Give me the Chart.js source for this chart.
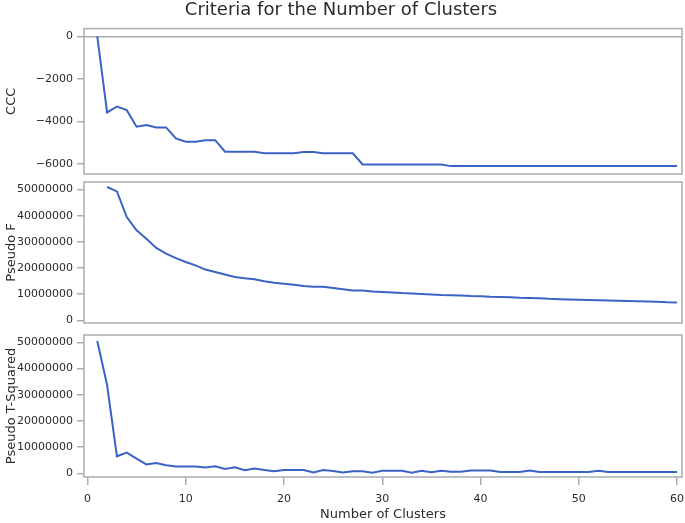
<!DOCTYPE html>
<html lang="en">
<head>
    <meta charset="UTF-8">
    <title>Criteria for the Number of Clusters</title>
    <script src="https://cdn.jsdelivr.net/npm/chart.js"></script>
    <style>
        body { margin: 0; background: #fff; }
        #wrap { position: relative; width: 685px; height: 523px; }
        #wrap canvas { position: absolute; left: 0; top: 0; }
    </style>
</head>
<body>
<div id="wrap">
    <canvas id="cccChart" width="685" height="523"></canvas>
    <canvas id="pseudoFChart" width="685" height="523"></canvas>
    <canvas id="pseudoTChart" width="685" height="523"></canvas>
</div>
<script>
    // Number of clusters (x axis)
    const clusters = [
        1, 2, 3, 4, 5, 6, 7, 8, 9, 10, 11, 12, 13, 14, 15, 16, 17, 18, 19, 20,
        21, 22, 23, 24, 25, 26, 27, 28, 29, 30, 31, 32, 33, 34, 35, 36, 37, 38, 39, 40,
        41, 42, 43, 44, 45, 46, 47, 48, 49, 50, 51, 52, 53, 54, 55, 56, 57, 58, 59, 60
    ];

    // Cubic clustering criterion
    const ccc = [
        0, -3580, -3300, -3470, -4250, -4170, -4280, -4280, -4800, -4950,
        -4950, -4880, -4880, -5420, -5420, -5420, -5420, -5500, -5500, -5500,
        -5500, -5440, -5440, -5500, -5500, -5500, -5500, -6020, -6020, -6020,
        -6020, -6020, -6020, -6020, -6020, -6020, -6100, -6100, -6100, -6100,
        -6100, -6100, -6100, -6100, -6100, -6100, -6100, -6100, -6100, -6100,
        -6100, -6100, -6100, -6100, -6100, -6100, -6100, -6100, -6100, -6100
    ];

    // Pseudo F (not defined for one cluster)
    const pseudoF = [
        null, 51000000, 49300000, 39500000, 34400000, 31200000, 27700000, 25500000, 23800000, 22300000,
        21000000, 19400000, 18500000, 17500000, 16600000, 16100000, 15700000, 14900000, 14400000, 14000000,
        13600000, 13100000, 12800000, 12800000, 12400000, 11900000, 11400000, 11400000, 11000000, 10800000,
        10600000, 10400000, 10300000, 10100000, 9900000, 9700000, 9600000, 9500000, 9300000, 9200000,
        9000000, 8900000, 8800000, 8600000, 8500000, 8400000, 8200000, 8100000, 8000000, 7900000,
        7800000, 7700000, 7600000, 7500000, 7400000, 7300000, 7200000, 7100000, 6900000, 6800000
    ];

    // Pseudo T-Squared
    const pseudoT2 = [
        50500000, 33700000, 6500000, 7900000, 5600000, 3400000, 3900000, 3100000, 2600000, 2600000,
        2600000, 2200000, 2700000, 1700000, 2300000, 1150000, 1800000, 1300000, 800000, 1300000,
        1300000, 1300000, 300000, 1300000, 900000, 300000, 800000, 800000, 250000, 1000000,
        1000000, 1000000, 250000, 1000000, 400000, 1000000, 600000, 600000, 1100000, 1100000,
        1100000, 500000, 500000, 500000, 1100000, 500000, 500000, 500000, 500000, 500000,
        500000, 1000000, 500000, 500000, 500000, 500000, 500000, 500000, 500000, 500000
    ];

    // tick labels
    const xTicks = [0, 10, 20, 30, 40, 50, 60];
    const cccTicks = [0, -2000, -4000, -6000];
    const bigTicks = [0, 10000000, 20000000, 30000000, 40000000, 50000000];

    const LINE = '#3b63c3';
    const FRAME = '#a9adb1';
    const TEXT = '#2b2b2b';
    const FONT = "'DejaVu Sans', sans-serif";

    // draw the gray box round each panel
    const framePlugin = {
        id: 'frame',
        beforeDatasetsDraw(chart) {
            const { ctx, chartArea: a } = chart;
            ctx.save();
            ctx.strokeStyle = FRAME;
            ctx.lineWidth = 1.5;
            ctx.strokeRect(a.left, a.top, a.right - a.left, a.bottom - a.top);
            ctx.restore();
        }
    };

    function points(values) {
        return clusters.map((c, i) => ({ x: c, y: values[i] }));
    }

    function makePanel(id, title, values, yRange, yTicks, padding, showX, chartTitle, zeroLine) {
        return new Chart(document.getElementById(id), {
            type: 'line',
            data: {
                datasets: [{
                    data: points(values),
                    borderColor: LINE,
                    borderWidth: 2,
                    pointRadius: 0,
                    tension: 0
                }]
            },
            options: {
                responsive: false,
                animation: false,
                events: [],
                layout: { padding: padding },
                plugins: {
                    legend: { display: false },
                    tooltip: { enabled: false },
                    title: {
                        display: !!chartTitle,
                        text: chartTitle || '',
                        color: TEXT,
                        font: { family: FONT, size: 18, weight: 'normal' },
                        padding: { top: 0, bottom: 7 }
                    }
                },
                scales: {
                    x: {
                        type: 'linear',
                        display: showX,
                        min: -0.35,
                        max: 60.5,
                        afterBuildTicks: s => { s.ticks = xTicks.map(v => ({ value: v })); },
                        afterFit: s => {
                            s.paddingLeft = 0;
                            s.paddingRight = 0;
                            if (showX) s.height = 46;
                        },
                        border: { display: false },
                        grid: { drawOnChartArea: false, color: FRAME, tickLength: 8, lineWidth: 1.5 },
                        ticks: {
                            color: TEXT,
                            padding: 8,
                            maxRotation: 0,
                            font: { family: FONT, size: 11 }
                        },
                        title: {
                            display: true,
                            text: 'Number of Clusters',
                            color: TEXT,
                            font: { family: FONT, size: 13 },
                            padding: { top: 0, bottom: 1 }
                        }
                    },
                    y: {
                        min: yRange[0],
                        max: yRange[1],
                        afterBuildTicks: s => { s.ticks = yTicks.map(v => ({ value: v })); },
                        afterFit: s => { s.width = 84; s.paddingTop = 0; s.paddingBottom = 0; },
                        border: { display: false },
                        grid: {
                            drawOnChartArea: zeroLine,
                            color: ctx => (ctx.tick && ctx.tick.value === 0) ? FRAME : 'rgba(0,0,0,0)',
                            tickColor: FRAME,
                            tickLength: 7,
                            lineWidth: 1.5
                        },
                        ticks: {
                            color: TEXT,
                            padding: 4,
                            font: { family: FONT, size: 11 },
                            callback: v => String(v).replace('-', '\u2212')
                        },
                        title: {
                            display: true,
                            text: title,
                            color: TEXT,
                            font: { family: FONT, size: 13 },
                            padding: { top: 4, bottom: 0 }
                        }
                    }
                }
            },
            plugins: [framePlugin]
        });
    }

    makePanel('cccChart', 'CCC', ccc, [-6470, 360], cccTicks,
        { top: 0, left: 0, right: 3, bottom: 349 }, false,
        'Criteria for the Number of Clusters', true);

    makePanel('pseudoFChart', 'Pseudo F', pseudoF, [-1030000, 52900000], bigTicks,
        { top: 182, left: 0, right: 3, bottom: 200 }, false, null, false);

    makePanel('pseudoTChart', 'Pseudo T-Squared', pseudoT2, [-1400000, 52800000], bigTicks,
        { top: 335, left: 0, right: 3, bottom: 0 }, true, null, false);
</script>
</body>
</html>
